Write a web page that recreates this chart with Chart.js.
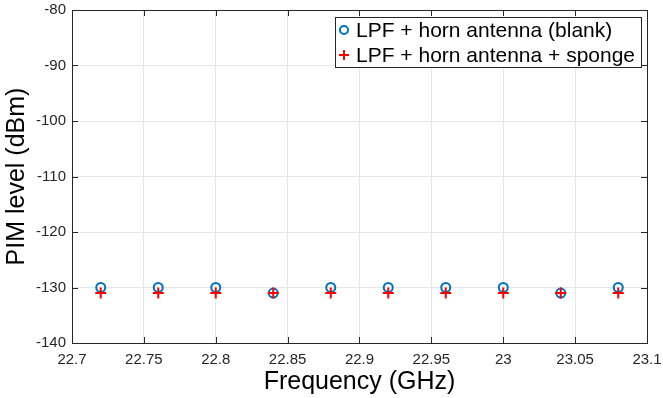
<!DOCTYPE html>
<html>
<head>
<meta charset="utf-8">
<script src="https://cdn.jsdelivr.net/npm/chart.js@4"></script>
<style>
  html, body { margin: 0; padding: 0; background: #fff; }
  #wrap { width: 663px; height: 398px; }
</style>
</head>
<body>
<div id="wrap"><canvas id="pimChart" width="663" height="398"></canvas></div>
<script>
// data
const freqs = [22.72, 22.76, 22.80, 22.84, 22.88, 22.92, 22.96, 23.00, 23.04, 23.08];
const blankLevels = [-130, -130, -130, -131, -130, -130, -130, -130, -131, -130];
const spongeLevels = [-131, -131, -131, -131, -131, -131, -131, -131, -131, -131];
const xTicks = [22.7, 22.75, 22.8, 22.85, 22.9, 22.95, 23, 23.05, 23.1];
const yTicks = [-140, -130, -120, -110, -100, -90, -80];
const seriesNames = ['LPF + horn antenna (blank)', 'LPF + horn antenna + sponge'];

const FONT = 'Liberation Sans, Arial, sans-serif';
const BLUE = '#0072BD';
const RED = '#FF0000';

const toPoints = (xs, ys) => xs.map((x, i) => ({ x: x, y: ys[i] }));

// box, inward ticks and legend, MATLAB style
const axesBox = {
    id: 'axesBox',
    afterDatasetsDraw(chart) {
        const { ctx, chartArea: a, scales } = chart;
        ctx.save();
        ctx.strokeStyle = '#262626';
        ctx.lineWidth = 1;
        ctx.beginPath();
        const tl = 6;
        xTicks.forEach(v => {
            const px = Math.round(scales.x.getPixelForValue(v)) + 0.5;
            ctx.moveTo(px, a.bottom); ctx.lineTo(px, a.bottom - tl);
            ctx.moveTo(px, a.top); ctx.lineTo(px, a.top + tl);
        });
        yTicks.forEach(v => {
            const py = Math.round(scales.y.getPixelForValue(v)) + 0.5;
            ctx.moveTo(a.left, py); ctx.lineTo(a.left + tl, py);
            ctx.moveTo(a.right, py); ctx.lineTo(a.right - tl, py);
        });
        ctx.stroke();
        ctx.strokeRect(Math.round(a.left) + 0.5, Math.round(a.top) + 0.5,
            Math.round(a.right - a.left), Math.round(a.bottom - a.top));

        // legend
        const lx = 335.5, ly = 17.5, lw = 306, lh = 50;
        ctx.fillStyle = '#fff';
        ctx.fillRect(lx, ly, lw, lh);
        ctx.strokeStyle = '#262626';
        ctx.strokeRect(lx, ly, lw, lh);
        ctx.font = '21px ' + FONT;
        ctx.fillStyle = '#000';
        ctx.textBaseline = 'middle';
        ctx.textAlign = 'left';
        const rows = [30, 55];
        // circle
        ctx.strokeStyle = BLUE;
        ctx.lineWidth = 2;
        ctx.beginPath();
        ctx.arc(344, rows[0], 4, 0, Math.PI * 2);
        ctx.stroke();
        // plus
        ctx.strokeStyle = RED;
        ctx.beginPath();
        ctx.moveTo(339, rows[1]); ctx.lineTo(349, rows[1]);
        ctx.moveTo(344, rows[1] - 5); ctx.lineTo(344, rows[1] + 5);
        ctx.stroke();
        ctx.fillText(seriesNames[0], 356, rows[0] + 1);
        ctx.fillText(seriesNames[1], 356, rows[1] + 1);
        ctx.restore();
    }
};

const ctx = document.getElementById('pimChart');
if (ctx) {
    new Chart(ctx.getContext('2d'), {
        type: 'scatter',
        data: {
            datasets: [{
                label: seriesNames[0],
                data: toPoints(freqs, blankLevels),
                pointStyle: 'circle',
                pointRadius: 4.5,
                pointBorderWidth: 2,
                borderColor: BLUE,
                backgroundColor: 'rgba(0,0,0,0)',
                order: 1
            }, {
                label: seriesNames[1],
                data: toPoints(freqs, spongeLevels),
                pointStyle: 'cross',
                pointRadius: 5.5,
                pointBorderWidth: 2,
                borderColor: RED,
                backgroundColor: RED,
                order: 0
            }]
        },
        options: {
            responsive: false,
            animation: false,
            layout: { padding: { top: 10, right: 16, left: 0, bottom: 0 } },
            plugins: {
                legend: { display: false },
                tooltip: { enabled: false }
            },
            scales: {
                x: {
                    type: 'linear',
                    min: 22.7,
                    max: 23.1,
                    afterFit: s => {
                        s.height = 55;
                        s.paddingLeft = 0;
                        s.paddingRight = 0;
                    },
                    afterBuildTicks: s => { s.ticks = xTicks.map(v => ({ value: v })); },
                    ticks: {
                        autoSkip: false,
                        maxRotation: 0,
                        padding: 8,
                        color: '#262626',
                        font: { family: FONT, size: 15 },
                        callback: v => String(+v.toFixed(2))
                    },
                    grid: { color: '#e6e6e6', drawTicks: false },
                    border: { display: false },
                    title: {
                        display: true,
                        text: 'Frequency (GHz)',
                        color: '#000',
                        font: { family: FONT, size: 25, lineHeight: 1 },
                        padding: { top: 0, bottom: 3.5 }
                    }
                },
                y: {
                    type: 'linear',
                    min: -140,
                    max: -80,
                    afterFit: s => {
                        s.width = 72;
                        s.paddingTop = 0;
                        s.paddingBottom = 0;
                    },
                    afterBuildTicks: s => { s.ticks = yTicks.map(v => ({ value: v })); },
                    ticks: {
                        autoSkip: false,
                        padding: 6,
                        color: '#262626',
                        font: { family: FONT, size: 15 }
                    },
                    grid: { color: '#e6e6e6', drawTicks: false },
                    border: { display: false },
                    title: {
                        display: true,
                        text: 'PIM level (dBm)',
                        color: '#000',
                        font: { family: FONT, size: 25, lineHeight: 1 },
                        padding: { top: 4.5, bottom: 0 }
                    }
                }
            }
        },
        plugins: [axesBox]
    });
} else {
    console.error("pimChart canvas not found.");
}
</script>
</body>
</html>
